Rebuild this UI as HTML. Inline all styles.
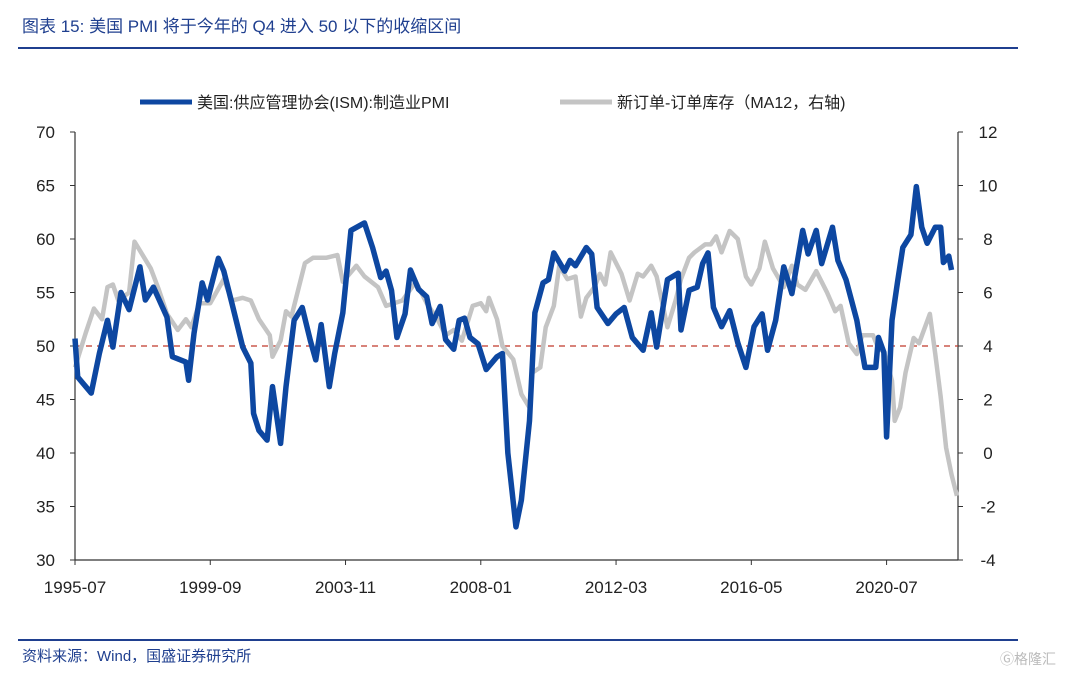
<!DOCTYPE html>
<html><head><meta charset="utf-8"><style>
body{margin:0;background:#fff;width:1080px;height:676px;overflow:hidden;font-family:"Liberation Sans","Noto Sans CJK SC",sans-serif}
</style></head><body>
<svg width="1080" height="676" viewBox="0 0 1080 676" xmlns="http://www.w3.org/2000/svg" font-family="Liberation Sans, Noto Sans CJK SC, sans-serif">
<text x="22" y="32" font-size="17" fill="#1f3f8f">图表 15:  美国 PMI 将于今年的 Q4 进入 50 以下的收缩区间</text>
<line x1="18" y1="48" x2="1018" y2="48" stroke="#1f3f8f" stroke-width="2"/>
<g>
<line x1="140" y1="102" x2="192" y2="102" stroke="#0d47a1" stroke-width="5"/>
<text x="197" y="108" font-size="16" fill="#222">美国:供应管理协会(ISM):制造业PMI</text>
<line x1="560" y1="102" x2="612" y2="102" stroke="#c4c4c4" stroke-width="5"/>
<text x="617" y="108" font-size="16" fill="#222">新订单-订单库存（MA12，右轴)</text>
</g>
<g id="axes"></g>
<g id="plot"></g>
<line x1="18" y1="640" x2="1018" y2="640" stroke="#1f3f8f" stroke-width="2"/>
<text x="22" y="661" font-size="15" fill="#1f3f8f">资料来源：Wind，国盛证券研究所</text>
<text x="1000" y="664" font-size="14" fill="#bbb">Ⓖ格隆汇</text>
</svg>
<script>
const xTickLabels=["1995-07","1999-09","2003-11","2008-01","2012-03","2016-05","2020-07"];
const xTickMonths=[0,50,100,150,200,250,300];
const leftTicks=[30,35,40,45,50,55,60,65,70];
const rightTicks=[-4,-2,0,2,4,6,8,10,12];
const pmiMonths=[0,1,6,9,12,14,17,20,24,26,29,34,36,41,42,44,47,49,53,55,58,62,65,66,68,71,73,76,78,81,84,87,89,91,94,96,99,102,107,110,113,115,117,119,122,124,127,130,132,135,137,140,142,144,146,149,152,156,158,160,163,165,168,170,173,175,177,181,183,185,189,191,193,197,200,203,206,210,213,215,219,223,224,227,230,232,234,236,239,242,245,248,251,254,256,259,262,265,269,271,274,276,280,282,285,287,289,292,296,297,299,300,302,304,306,309,311,313,315,318,320,321,323,324];
const pmiValues=[50.7,47.1,45.6,49.3,52.4,49.9,55,53.4,57.4,54.3,55.5,52.7,49,48.5,46.8,51.2,55.9,54.3,58.2,57,54,49.9,48.4,43.7,42.1,41.2,46.2,40.9,46.2,52.4,53.6,50.5,48.7,52,46.2,49.3,53.1,60.8,61.5,59.2,56.4,57,55.2,50.8,53,57.1,55.3,54.6,52.1,53.7,50.6,49.7,52.4,52.6,50.8,50.2,47.8,49,49.3,40,33.1,35.6,43,53.1,55.9,56.2,58.7,57,58,57.5,59.2,58.6,53.6,52.1,53,53.6,50.8,49.6,53.1,49.9,56.2,56.8,51.5,55.2,55.5,57.7,58.7,53.6,51.8,53.3,50.3,48,51.8,53,49.6,52.4,57.4,54.9,60.8,58.6,60.8,57.7,61.1,58,56.2,54.3,52.4,48,48,50.8,49.4,41.5,52.4,55.9,59.2,60.4,64.9,61.1,59.6,61.1,61.1,57.8,58.4,57.1];
const gapMonths=[0,4,7,10,12,14,16,20,22,25,28,31,34,38,41,43,46,50,55,58,62,65,68,72,73,76,78,80,85,88,90,93,97,99,104,107,112,115,121,126,130,134,137,140,143,147,150,152,153,156,158,162,165,168,169,172,174,177,179,182,185,187,189,192,194,196,198,202,205,208,210,213,215,219,222,224,227,229,233,235,237,239,242,245,248,250,253,255,258,262,265,267,270,274,278,281,283,286,289,291,295,297,299,302,303,305,307,310,312,316,318,320,322,324,326];
const gapValues=[3.2,4.5,5.4,5.0,6.2,6.3,5.7,6.0,7.9,7.4,6.9,6.1,5.2,4.6,5.0,4.7,5.6,5.6,6.5,5.7,5.8,5.7,5.0,4.4,3.6,4.2,5.3,5.1,7.1,7.3,7.3,7.3,7.4,6.4,7.0,6.6,6.2,5.5,5.7,6.4,5.6,5.0,4.4,4.6,4.2,5.5,5.6,5.3,5.8,5.0,4.0,3.5,2.2,1.7,3.0,3.2,4.7,5.5,7.0,6.5,6.6,5.1,5.8,6.2,6.7,6.3,7.5,6.7,5.7,6.7,6.6,7.0,6.6,4.7,5.7,6.5,7.3,7.5,7.8,7.8,8.1,7.5,8.3,8.0,6.6,6.3,6.9,7.9,6.9,6.2,7.0,6.3,6.1,6.8,6.0,5.3,5.5,4.1,3.7,4.4,4.4,3.9,3.8,2.7,1.2,1.7,3.0,4.3,4.1,5.2,3.7,2.1,0.2,-0.8,-1.6];
const X0=75,X1=958,Y0=132,Y1=560,M1=326.4;
const xs=m=>X0+(X1-X0)*m/M1;
const yl=v=>Y1-(v-30)/40*(Y1-Y0);
const yr=v=>Y1-(v+4)/16*(Y1-Y0);
const NS="http://www.w3.org/2000/svg";
function mk(tag,attrs,parent,txt){const e=document.createElementNS(NS,tag);for(const k in attrs)e.setAttribute(k,attrs[k]);if(txt!==undefined)e.textContent=txt;parent.appendChild(e);return e;}
const ax=document.getElementById('axes'),pl=document.getElementById('plot');
let e;
e=mk('line',{x1:X0,y1:Y0,x2:X0,y2:Y1,stroke:'#333','stroke-width':1.2},ax);


e=mk('line',{x1:X1,y1:Y0,x2:X1,y2:Y1,stroke:'#333','stroke-width':1.2},ax);


e=mk('line',{x1:X0,y1:Y1,x2:X1,y2:Y1,stroke:'#333','stroke-width':1.2},ax);


leftTicks.forEach(v=>{mk('line',{x1:X0-5,y1:yl(v),x2:X0,y2:yl(v),stroke:'#333'},ax);
e=mk('text',{x:55,y:yl(v)+6,'font-size':17,'text-anchor':'end',fill:'#222'},ax,String(v));

});
rightTicks.forEach(v=>{mk('line',{x1:X1,y1:yr(v),x2:X1+5,y2:yr(v),stroke:'#333'},ax);
e=mk('text',{x:988,y:yr(v)+6,'font-size':17,'text-anchor':'middle',fill:'#222'},ax,String(v));

});
xTickMonths.forEach((m,i)=>{mk('line',{x1:xs(m),y1:Y1,x2:xs(m),y2:Y1+5,stroke:'#333'},ax);
e=mk('text',{x:xs(m),y:593,'font-size':17,'text-anchor':'middle',fill:'#222'},ax,xTickLabels[i]);

});
e=mk('line',{x1:X0,y1:yl(50),x2:X1,y2:yl(50),stroke:'#c0392b','stroke-width':1.2,'stroke-dasharray':'6,5'},pl);


e=mk('polyline',{points:gapMonths.map((m,i)=>xs(m)+','+yr(gapValues[i])).join(' '),fill:'none',stroke:'#c4c4c4','stroke-width':4.5,'stroke-linejoin':'round'},pl);


e=mk('polyline',{points:pmiMonths.map((m,i)=>xs(m)+','+yl(pmiValues[i])).join(' '),fill:'none',stroke:'#0d47a1','stroke-width':5.5,'stroke-linejoin':'round'},pl);


</script>
</body></html>
